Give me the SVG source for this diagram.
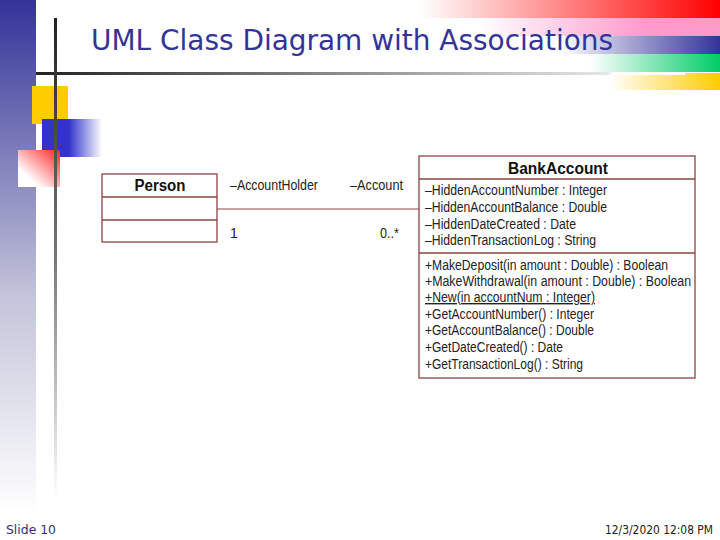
<svg xmlns="http://www.w3.org/2000/svg" width="720" height="540" viewBox="0 0 720 540">
<defs>
  <linearGradient id="gBar" x1="0" y1="0" x2="0" y2="1">
    <stop offset="0" stop-color="#333399"/>
    <stop offset="0.55" stop-color="#c4c4da"/>
    <stop offset="0.95" stop-color="#ffffff"/>
  </linearGradient>
  <linearGradient id="gVline" x1="0" y1="0" x2="0" y2="1">
    <stop offset="0" stop-color="#222222"/>
    <stop offset="0.5" stop-color="#777777"/>
    <stop offset="1" stop-color="#ffffff"/>
  </linearGradient>
  <linearGradient id="gHline" x1="0" y1="0" x2="1" y2="0">
    <stop offset="0" stop-color="#222222"/>
    <stop offset="0.45" stop-color="#888888"/>
    <stop offset="0.88" stop-color="#e6e6e6"/>
    <stop offset="0.89" stop-color="#ffffff"/>
    <stop offset="1" stop-color="#ffffff"/>
  </linearGradient>
  <linearGradient id="gBlue" x1="0" y1="0" x2="1" y2="0">
    <stop offset="0" stop-color="#3333cc"/>
    <stop offset="0.45" stop-color="#3333cc"/>
    <stop offset="1" stop-color="#3333cc" stop-opacity="0"/>
  </linearGradient>
  <linearGradient id="gRedSq" x1="1" y1="0" x2="0" y2="1">
    <stop offset="0" stop-color="#ff2222"/>
    <stop offset="0.75" stop-color="#ffffff"/>
  </linearGradient>
  <linearGradient id="gRed" x1="0" y1="0" x2="1" y2="0">
    <stop offset="0" stop-color="#ff0000" stop-opacity="0"/>
    <stop offset="1" stop-color="#ff0000"/>
  </linearGradient>
  <linearGradient id="gPink" x1="0" y1="0" x2="1" y2="0">
    <stop offset="0" stop-color="#ff99cc" stop-opacity="0"/>
    <stop offset="0.7" stop-color="#ff99cc"/>
    <stop offset="1" stop-color="#ff99cc"/>
  </linearGradient>
  <linearGradient id="gNavy" x1="0" y1="0" x2="1" y2="0">
    <stop offset="0" stop-color="#333399" stop-opacity="0"/>
    <stop offset="1" stop-color="#333399"/>
  </linearGradient>
  <linearGradient id="gGreen" x1="0" y1="0" x2="1" y2="0">
    <stop offset="0" stop-color="#00cc66" stop-opacity="0"/>
    <stop offset="1" stop-color="#00cc66"/>
  </linearGradient>
  <linearGradient id="gYellow" x1="0" y1="0" x2="1" y2="0">
    <stop offset="0" stop-color="#ffcc00" stop-opacity="0"/>
    <stop offset="1" stop-color="#ffcc00"/>
  </linearGradient>
  <style>
    .box { fill: #ffffff; stroke: #8b4444; stroke-width: 1.3; }
    .div { stroke: #8b4444; stroke-width: 1.3; }
    .t { font-family: "Liberation Sans", Arial, sans-serif; font-size: 14px; fill: #222222; }
    .h { font-family: "Liberation Sans", Arial, sans-serif; font-size: 16px; font-weight: bold; fill: #111111; }
    .conn { stroke: #8b4444; stroke-width: 1.2; fill: none; }
  </style>
</defs>
<rect x="0" y="0" width="720" height="540" fill="#ffffff"/>

<!-- decoration -->
<g id="decor">
  <rect x="0" y="0" width="36" height="540" fill="url(#gBar)"/>
  <rect x="420" y="0" width="300" height="18" fill="url(#gRed)"/>
  <rect x="480" y="18" width="240" height="18" fill="url(#gPink)"/>
  <rect x="560" y="36" width="160" height="18" fill="url(#gNavy)"/>
  <rect x="590" y="54" width="130" height="18" fill="url(#gGreen)"/>
  <rect x="610" y="73" width="110" height="17" fill="url(#gYellow)"/>
  <rect x="36" y="72" width="649" height="3" fill="url(#gHline)"/>
  <rect x="32" y="86" width="36" height="38" fill="#ffcc00"/>
  <rect x="42" y="119" width="60" height="38" fill="url(#gBlue)"/>
  <rect x="18" y="150" width="42" height="37" fill="url(#gRedSq)"/>
  <rect x="54" y="18" width="3" height="480" fill="url(#gVline)"/>
</g>

<text x="91" y="50" font-family="DejaVu Sans, Verdana, sans-serif" font-size="28" fill="#333399" textLength="522" lengthAdjust="spacingAndGlyphs">UML Class Diagram with Associations</text>

<!-- connectors -->
<g id="connectors">
  <line class="conn" x1="217" y1="209" x2="419" y2="209"/>
  <text class="t" x="230" y="190" textLength="88" lengthAdjust="spacingAndGlyphs">–AccountHolder</text>
  <text class="t" x="350" y="190" textLength="53" lengthAdjust="spacingAndGlyphs">–Account</text>
  <text class="t" x="230" y="238">1</text>
  <text class="t" x="380" y="238" textLength="19" lengthAdjust="spacingAndGlyphs">0..*</text>
</g>

<!-- Person -->
<g id="person">
  <rect class="box" x="102" y="174" width="115" height="68"/>
  <line class="div" x1="102" y1="197" x2="217" y2="197"/>
  <line class="div" x1="102" y1="220" x2="217" y2="220"/>
  <text class="h" x="160" y="191" text-anchor="middle" textLength="51" lengthAdjust="spacingAndGlyphs">Person</text>
</g>

<!-- BankAccount -->
<g id="bankaccount">
  <rect class="box" x="419" y="156" width="276" height="222"/>
  <line class="div" x1="419" y1="179" x2="695" y2="179"/>
  <line class="div" x1="419" y1="253" x2="695" y2="253"/>
  <text class="h" x="558" y="174" text-anchor="middle" textLength="100" lengthAdjust="spacingAndGlyphs">BankAccount</text>
  <text class="t" x="425" y="195" textLength="182" lengthAdjust="spacingAndGlyphs">–HiddenAccountNumber : Integer</text>
  <text class="t" x="425" y="212" textLength="182" lengthAdjust="spacingAndGlyphs">–HiddenAccountBalance : Double</text>
  <text class="t" x="425" y="229" textLength="151" lengthAdjust="spacingAndGlyphs">–HiddenDateCreated : Date</text>
  <text class="t" x="425" y="245" textLength="171" lengthAdjust="spacingAndGlyphs">–HiddenTransactionLog : String</text>
  <text class="t" x="425" y="270" textLength="243" lengthAdjust="spacingAndGlyphs">+MakeDeposit(in amount : Double) : Boolean</text>
  <text class="t" x="425" y="286" textLength="266" lengthAdjust="spacingAndGlyphs">+MakeWithdrawal(in amount : Double) : Boolean</text>
  <text class="t" x="425" y="302" textLength="170" lengthAdjust="spacingAndGlyphs" text-decoration="underline">+New(in accountNum : Integer)</text>
  <text class="t" x="425" y="319" textLength="169" lengthAdjust="spacingAndGlyphs">+GetAccountNumber() : Integer</text>
  <text class="t" x="425" y="335" textLength="169" lengthAdjust="spacingAndGlyphs">+GetAccountBalance() : Double</text>
  <text class="t" x="425" y="352" textLength="138" lengthAdjust="spacingAndGlyphs">+GetDateCreated() : Date</text>
  <text class="t" x="425" y="369" textLength="158" lengthAdjust="spacingAndGlyphs">+GetTransactionLog() : String</text>
</g>

<!-- footer -->
<text x="6" y="534" font-family="DejaVu Sans, Verdana, sans-serif" font-size="12" fill="#333366" textLength="50" lengthAdjust="spacingAndGlyphs">Slide 10</text>
<text x="713" y="534" font-family="DejaVu Sans, Verdana, sans-serif" font-size="12" fill="#222222" text-anchor="end" textLength="108" lengthAdjust="spacingAndGlyphs">12/3/2020 12:08 PM</text>
</svg>
